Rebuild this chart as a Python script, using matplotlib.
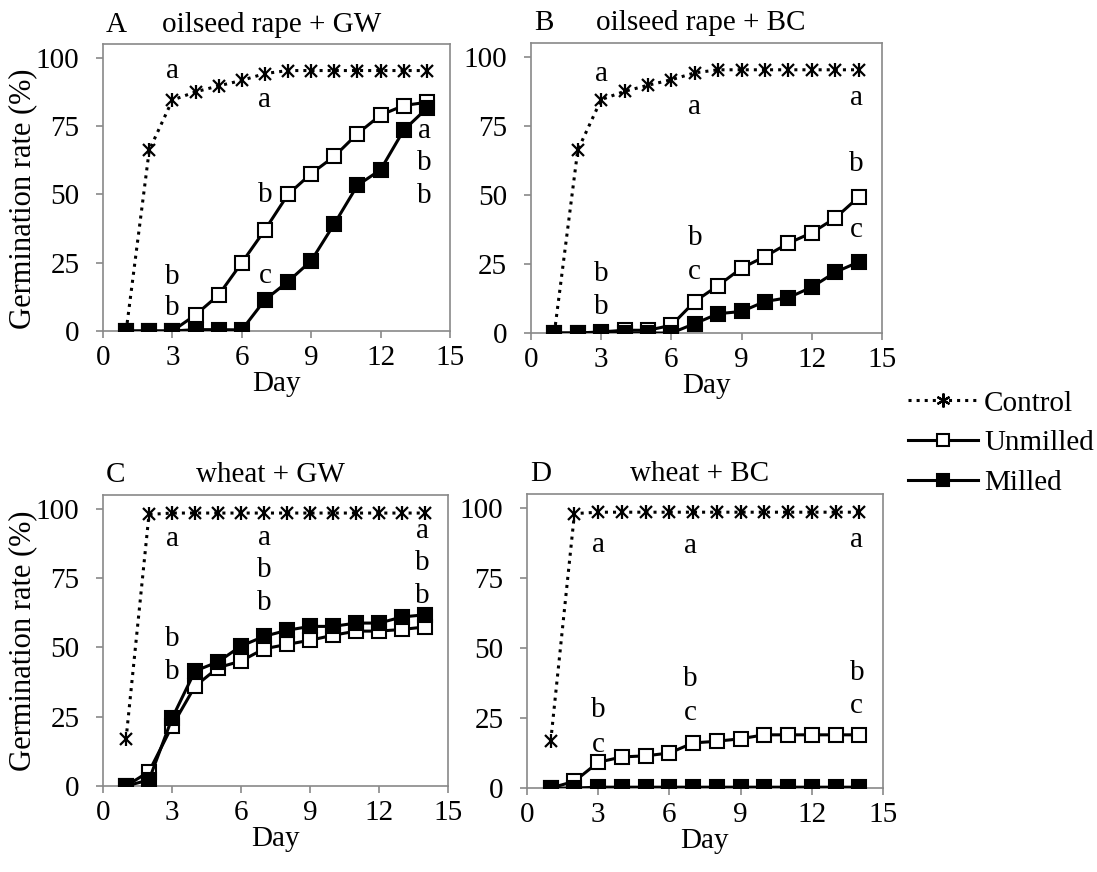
import matplotlib
matplotlib.use('Agg')
import matplotlib.pyplot as plt
from matplotlib.lines import Line2D

plt.rcParams['font.family'] = ['Liberation Serif', 'DejaVu Serif']

# ── Data ───────────────────────────────────────────────────────────────────
days = list(range(1, 15))

control_rape  = [0, 66.2, 84.5, 87.5, 89.7, 91.7, 94.2, 95.3, 95.3, 95.3, 95.3, 95.3, 95.3, 95.3]
control_wheat = [16.8, 98.0, 98.5, 98.5, 98.5, 98.5, 98.5, 98.5, 98.5, 98.5, 98.5, 98.5, 98.5, 98.5]

unmilled_a = [0, 0, 0, 5.9, 13.2, 25.0, 37.0, 50.0, 57.6, 63.9, 72.2, 79.0, 82.5, 83.7]
milled_a   = [0, 0, 0, 0.5, 0.5, 0.4, 11.4, 18.1, 25.7, 39.2, 53.3, 59.0, 73.5, 81.5]

unmilled_b = [0, 0, 0.4, 1.0, 1.0, 2.8, 11.4, 17.2, 23.5, 27.7, 32.5, 36.3, 41.6, 49.2]
milled_b   = [0, 0, 0, 0, 0, 0, 3.4, 7.0, 7.8, 11.4, 12.8, 16.6, 22.0, 25.7]

unmilled_c = [0, 5.2, 21.6, 36.0, 42.7, 45.1, 49.5, 51.1, 52.6, 54.4, 55.9, 55.9, 56.5, 57.4]
milled_c   = [0, 2.2, 24.4, 41.5, 44.8, 50.5, 54.0, 56.2, 57.6, 57.6, 58.8, 58.8, 61.0, 61.8]

unmilled_d = [0, 2.4, 9.2, 11.1, 11.5, 12.5, 16.1, 16.7, 17.6, 19.0, 19.0, 19.0, 19.0, 19.0]
milled_d   = [0, 0, 0.3, 0.3, 0.3, 0.3, 0.3, 0.3, 0.3, 0.3, 0.3, 0.3, 0.3, 0.3]

# significance letters: (day, height, letter)
letters_a = [(3, 95.1, 'a'), (3, 19.9, 'b'), (3, 8.3, 'b'),
             (7, 84.7, 'a'), (7, 49.9, 'b'), (7, 20.2, 'c'),
             (13.9, 73.1, 'a'), (13.9, 61.5, 'b'), (13.9, 49.3, 'b')]
letters_b = [(3, 93.7, 'a'), (3, 21.4, 'b'), (3, 9.6, 'b'),
             (7, 81.9, 'a'), (7, 34.5, 'b'), (7, 22.0, 'c'),
             (13.9, 85.0, 'a'), (13.9, 61.2, 'b'), (13.9, 37.3, 'c')]
letters_c = [(3, 89.2, 'a'), (3, 53.2, 'b'), (3, 41.2, 'b'),
             (7, 89.6, 'a'), (7, 77.8, 'b'), (7, 66.0, 'b'),
             (13.9, 92.2, 'a'), (13.9, 80.4, 'b'), (13.9, 68.5, 'b')]
letters_d = [(3, 86.9, 'a'), (3, 27.7, 'b'), (3, 15.5, 'c'),
             (6.9, 86.3, 'a'), (6.9, 38.9, 'b'), (6.9, 26.8, 'c'),
             (13.9, 88.7, 'a'), (13.9, 41.1, 'b'), (13.9, 29.2, 'c')]

panels = [
    ('A', 'oilseed rape + GW', control_rape, unmilled_a, milled_a, letters_a),
    ('B', 'oilseed rape + BC', control_rape, unmilled_b, milled_b, letters_b),
    ('C', 'wheat + GW', control_wheat, unmilled_c, milled_c, letters_c),
    ('D', 'wheat + BC', control_wheat, unmilled_d, milled_d, letters_d),
]

# axes rectangles in figure fraction
rects = [
    [0.0939, 0.6204, 0.3163, 0.3291],
    [0.4840, 0.6181, 0.3200, 0.3326],
    [0.0939, 0.0986, 0.3145, 0.3337],
    [0.4804, 0.0963, 0.3245, 0.3372],
]
ylabel_y = {'A': 0.46, 'C': 0.50}

GREY = '#898989'
FS = 21

fig = plt.figure(figsize=(10.97, 8.72), dpi=100)

for (tag, title, ctrl, unm, mil, lets), rect in zip(panels, rects):
    ax = fig.add_axes(rect)

    # control: Excel-style star = x + vertical bar
    ax.plot(days, ctrl, color='black', ls=':', lw=2.2, marker='x', ms=9,
            mew=1.6, zorder=3)
    ax.plot(days, ctrl, ls='none', marker='|', ms=10, mew=1.6,
            color='black', zorder=3)
    ax.plot(days, unm, color='black', lw=2.2, marker='s', ms=10,
            mfc='white', mec='black', mew=1.5, zorder=4)
    ax.plot(days, mil, color='black', lw=2.2, marker='s', ms=10,
            mfc='black', mec='black', mew=1.5, zorder=5)

    for d, h, s in lets:
        ax.text(d, h, s, ha='center', va='center', fontsize=FS)

    ax.set_xlim(0, 15)
    ax.set_ylim(0, 105)
    ax.set_xticks(range(0, 16, 3))
    ax.set_yticks(range(0, 101, 25))
    ax.tick_params(direction='out', length=5, width=1.2, color=GREY,
                   labelsize=FS)
    ax.tick_params(axis='x', pad=5)
    ax.tick_params(axis='y', pad=12)
    for sp in ax.spines.values():
        sp.set_color(GREY)
        sp.set_linewidth(1.2)
    ax.set_xlabel('Day', fontsize=FS, labelpad=0)
    if tag in ylabel_y:
        ax.set_ylabel('Germination rate (%)', fontsize=FS + 1)
        ax.yaxis.set_label_coords(-0.19, ylabel_y[tag])

    ax.text(0.008, 1.068, tag, transform=ax.transAxes, ha='left',
            va='center', fontsize=FS)
    ax.text(0.485, 1.068, title, transform=ax.transAxes, ha='center',
            va='center', fontsize=FS)

handles = [
    Line2D([], [], color='black', ls=':', lw=2.2, marker=(6, 2, 0), ms=10, mew=1.6),
    Line2D([], [], color='black', lw=2.2, marker='s', ms=9, mfc='white', mew=1.5),
    Line2D([], [], color='black', lw=2.2, marker='s', ms=9, mfc='black', mew=1.5),
]
fig.legend(handles, ['Control', 'Unmilled', 'Milled'], loc='center left',
           bbox_to_anchor=(0.828, 0.492), frameon=False, fontsize=FS,
           handlelength=2.4, handletextpad=0.2, labelspacing=0.45,
           borderpad=0, borderaxespad=0)

fig.savefig('out.png', dpi=100)
